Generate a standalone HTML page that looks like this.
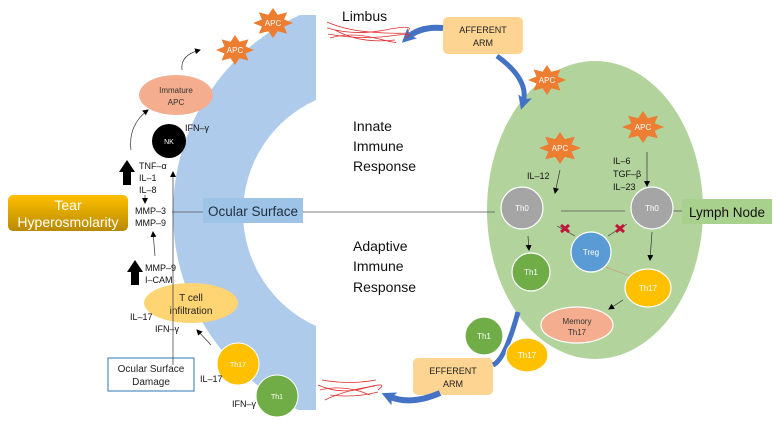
<!DOCTYPE html>
<html><head><meta charset="utf-8"><style>
html,body{margin:0;padding:0;background:#fff;}
svg{display:block;font-family:"Liberation Sans",sans-serif;}
</style></head><body>
<svg width="780" height="421" viewBox="0 0 780 421" xmlns="http://www.w3.org/2000/svg">
<defs>
<polygon id="star" points="1,0 .554,.23 .707,.707 .23,.554 0,1 -.23,.554 -.707,.707 -.554,.23 -1,0 -.554,-.23 -.707,-.707 -.23,-.554 0,-1 .23,-.554 .707,-.707 .554,-.23"/>
<marker id="ah" markerWidth="6" markerHeight="6" refX="5" refY="3" orient="auto" markerUnits="userSpaceOnUse"><path d="M0,0 L6,3 L0,6 z" fill="#000"/></marker>
<marker id="bh" markerWidth="14" markerHeight="14" refX="7" refY="7" orient="auto" markerUnits="userSpaceOnUse"><path d="M0,0 L14,7 L0,14 L3,7 z" fill="#4472c4"/></marker>
<linearGradient id="gold" x1="0" y1="0" x2="0" y2="1"><stop offset="0" stop-color="#ffc000"/><stop offset="1" stop-color="#b88a00"/></linearGradient>
</defs>
<path d="M300,15 L316,15 L316,100 A124,124 0 0 0 316,326 L316,410 L298,410 A217.8,217.8 0 0 1 300,15 Z" fill="#aecbeb"/>
<ellipse cx="595" cy="210" rx="108" ry="149" fill="#b3d39d"/>
<line x1="172" y1="212" x2="203" y2="212" stroke="#555" stroke-width="0.8"/>
<line x1="303" y1="212" x2="495" y2="212" stroke="#555" stroke-width="0.8"/>
<line x1="561" y1="211" x2="625" y2="211" stroke="#555" stroke-width="0.8"/>
<line x1="673" y1="211" x2="682" y2="211" stroke="#555" stroke-width="0.8"/>
<rect x="8" y="195" width="120" height="36" rx="5" fill="url(#gold)"/>
<text x="68" y="210" font-size="14" fill="#fff" text-anchor="middle">Tear</text>
<text x="68" y="227" font-size="14" fill="#fff" text-anchor="middle">Hyperosmolarity</text>
<rect x="203" y="198" width="100" height="25" fill="#9dc3e6"/>
<text x="253" y="216" font-size="13.5" fill="#1f2d3d" text-anchor="middle">Ocular Surface</text>
<rect x="682" y="199" width="90" height="25" fill="#a9d18e"/>
<text x="727" y="217" font-size="13.5" fill="#111" text-anchor="middle">Lymph Node</text>
<rect x="108" y="358" width="86" height="33" fill="#fff" stroke="#2e75b6" stroke-width="1"/>
<text x="151" y="372" font-size="10" fill="#222" text-anchor="middle">Ocular Surface</text>
<text x="151" y="385" font-size="10" fill="#222" text-anchor="middle">Damage</text>
<rect x="443" y="17" width="80" height="37" rx="5" fill="#fdd492"/>
<text x="483" y="33" font-size="9" fill="#222" text-anchor="middle">AFFERENT</text>
<text x="483" y="46" font-size="9" fill="#222" text-anchor="middle">ARM</text>
<rect x="413" y="358" width="80" height="37" rx="5" fill="#fdd492"/>
<text x="453" y="374" font-size="9" fill="#222" text-anchor="middle">EFFERENT</text>
<text x="453" y="387" font-size="9" fill="#222" text-anchor="middle">ARM</text>
<path d="M443,28 Q420,26 407,38" stroke="#4472c4" stroke-width="6" fill="none" marker-end="url(#bh)"/>
<path d="M497,56 Q530,80 523,103" stroke="#4472c4" stroke-width="5" fill="none" marker-end="url(#bh)"/>
<path d="M518,312 Q505,360 493,365" stroke="#4472c4" stroke-width="5" fill="none"/>
<path d="M440,393 Q410,406 388,396" stroke="#4472c4" stroke-width="6" fill="none" marker-end="url(#bh)"/>
<g stroke="#e03030" stroke-width="0.8" fill="none">
<path d="M327,22 Q345,30 370,32 T408,33"/><path d="M327,28 Q355,36 385,30 T408,31"/><path d="M328,34 Q360,40 390,36 T405,38"/><path d="M330,38 Q350,32 375,38 T395,42"/><path d="M335,30 Q360,44 395,40"/>
<path d="M318,385 Q340,395 365,388 T378,390"/><path d="M320,390 Q345,384 370,395"/><path d="M325,400 Q345,390 375,386"/><path d="M322,380 Q350,385 376,380"/><path d="M330,395 Q355,398 378,392"/>
</g>
<text x="342" y="21" font-size="14" fill="#111">Limbus</text>
<g font-size="14" fill="#111"><text x="353" y="131">Innate</text><text x="353" y="151">Immune</text><text x="353" y="171">Response</text>
<text x="353" y="251">Adaptive</text><text x="353" y="271">Immune</text><text x="353" y="292">Response</text></g>
<g fill="#ed7d31">
<use href="#star" transform="translate(235,50) scale(19,15)"/>
<use href="#star" transform="translate(273,23) scale(20,15)"/>
<use href="#star" transform="translate(547,80) scale(19,15)"/>
<use href="#star" transform="translate(560,148) scale(21,16)"/>
<use href="#star" transform="translate(643,127) scale(21,16)"/>
</g>
<g font-size="8" fill="#fff" text-anchor="middle"><text x="235" y="53">APC</text><text x="273" y="26">APC</text><text x="547" y="83">APC</text><text x="560" y="151">APC</text><text x="643" y="130">APC</text></g>
<ellipse cx="176" cy="95" rx="37" ry="20" fill="#f4ad8e"/>
<text x="176" y="93" font-size="8" fill="#333" text-anchor="middle">Immature</text>
<text x="176" y="105" font-size="8" fill="#333" text-anchor="middle">APC</text>
<circle cx="169" cy="141" r="17" fill="#000"/>
<text x="169" y="144" font-size="7" fill="#fff" text-anchor="middle">NK</text>
<ellipse cx="191" cy="303" rx="47" ry="20" fill="#fed572"/>
<text x="191" y="301" font-size="10" fill="#222" text-anchor="middle">T cell</text>
<text x="191" y="314" font-size="10" fill="#222" text-anchor="middle">infiltration</text>
<circle cx="238" cy="364" r="21" fill="#ffc000" stroke="#fff"/>
<text x="238" y="367" font-size="7" fill="#fff" text-anchor="middle">Th17</text>
<circle cx="277" cy="396" r="21" fill="#70ad47" stroke="#fff"/>
<text x="277" y="399" font-size="7" fill="#fff" text-anchor="middle">Th1</text>
<g font-size="9" fill="#111">
<text x="185" y="131">IFN–γ</text>
<text x="139" y="169">TNF–α</text><text x="139" y="181">IL–1</text><text x="139" y="193">IL–8</text>
<text x="135" y="214">MMP–3</text><text x="135" y="226">MMP–9</text>
<text x="145" y="271">MMP–9</text><text x="145" y="283">I–CAM</text>
<text x="130" y="320">IL–17</text><text x="155" y="332">IFN–γ</text>
<text x="200" y="382">IL–17</text><text x="232" y="407">IFN–γ</text>
</g>
<path d="M123,185 L123,172 L119,172 L127,160 L135,172 L131,172 L131,185 Z" fill="#000"/>
<path d="M131,285 L131,272 L127,272 L135,260 L143,272 L139,272 L139,285 Z" fill="#000"/>
<g stroke="#333" stroke-width="0.7" fill="none">
<path d="M131,150 Q128,125 148,110" marker-end="url(#ah)"/>
<path d="M182,70 Q180,55 200,50" marker-end="url(#ah)"/>
<line x1="145" y1="195" x2="145" y2="203" marker-end="url(#ah)"/>
<line x1="155" y1="256" x2="153" y2="232" marker-end="url(#ah)"/>
<line x1="173" y1="365" x2="173" y2="172" marker-end="url(#ah)"/>
<line x1="211" y1="345" x2="197" y2="330" marker-end="url(#ah)"/>
<line x1="560" y1="170" x2="555" y2="193" marker-end="url(#ah)"/>
<line x1="647" y1="152" x2="647" y2="186" marker-end="url(#ah)"/>
<line x1="528" y1="236" x2="529" y2="250" marker-end="url(#ah)"/>
<line x1="652" y1="232" x2="650" y2="260" marker-end="url(#ah)"/>
<line x1="623" y1="300" x2="609" y2="309" marker-end="url(#ah)"/>
<line x1="575" y1="236" x2="557" y2="226"/><line x1="608" y1="236" x2="627" y2="224"/>
<line x1="603" y1="266" x2="630" y2="276" stroke="#c9a07a"/>
</g>
<g font-size="9" fill="#111">
<text x="527" y="179">IL–12</text>
<text x="613" y="164">IL–6</text><text x="613" y="177">TGF–β</text><text x="613" y="190">IL–23</text>
</g>
<g stroke="#fff" stroke-width="1.2">
<circle cx="522" cy="208" r="21" fill="#a5a5a5"/>
<circle cx="652" cy="208" r="21" fill="#a5a5a5"/>
<circle cx="591" cy="252" r="20" fill="#5b9bd5"/>
<circle cx="531" cy="272" r="19" fill="#70ad47"/>
<ellipse cx="648" cy="288" rx="23" ry="19" fill="#ffc000"/>
<ellipse cx="577" cy="325" rx="36" ry="18" fill="#f4ad8e"/>
<circle cx="484" cy="336" r="19" fill="#70ad47"/>
<ellipse cx="527" cy="355" rx="21" ry="17" fill="#ffc000"/>
</g>
<g font-size="8" fill="#fff" text-anchor="middle">
<text x="522" y="211">Th0</text><text x="652" y="211">Th0</text><text x="591" y="255">Treg</text>
<text x="531" y="275">Th1</text><text x="648" y="291">Th17</text>
<text x="484" y="339">Th1</text><text x="527" y="358">Th17</text>
</g>
<text x="577" y="324" font-size="8" fill="#333" text-anchor="middle">Memory</text>
<text x="577" y="335" font-size="8" fill="#333" text-anchor="middle">Th17</text>
<g stroke="#c0163a" stroke-width="3"><path d="M561,225 L569,232 M569,225 L561,232"/><path d="M616,225 L624,232 M624,225 L616,232"/></g>
</svg>
</body></html>
